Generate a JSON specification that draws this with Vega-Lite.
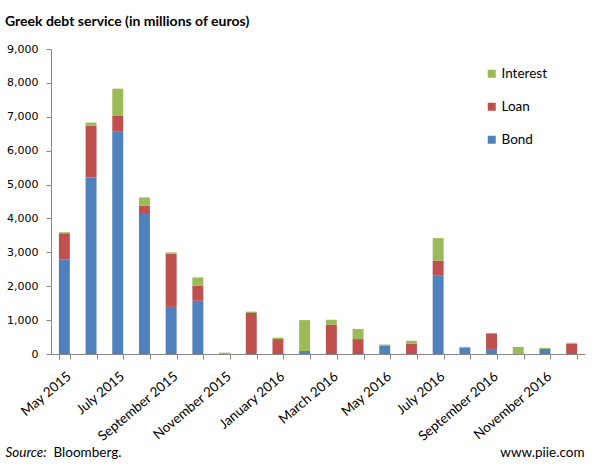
{
  "$schema": "https://vega.github.io/schema/vega-lite/v6.json",
  "width": 534,
  "height": 305,
  "autosize": {"type": "none"},
  "padding": {"left": 51, "top": 49, "right": 15, "bottom": 119},
  "background": "white",
  "title": {"text": "Greek debt service (in millions of euros)", "anchor": "start", "frame": "bounds", "font": "Lato", "fontSize": 14, "fontWeight": "bold", "color": "black", "offset": 14},
  "config": {"view": {"stroke": null}, "font": "Lato"},
  "layer": [
    {
      "data": {"values": [
        {"month": "May 2015", "type": "Bond", "value": 2790},
        {"month": "May 2015", "type": "Loan", "value": 770},
        {"month": "May 2015", "type": "Interest", "value": 30},
        {"month": "June 2015", "type": "Bond", "value": 5210},
        {"month": "June 2015", "type": "Loan", "value": 1530},
        {"month": "June 2015", "type": "Interest", "value": 90},
        {"month": "July 2015", "type": "Bond", "value": 6570},
        {"month": "July 2015", "type": "Loan", "value": 470},
        {"month": "July 2015", "type": "Interest", "value": 790},
        {"month": "August 2015", "type": "Bond", "value": 4160},
        {"month": "August 2015", "type": "Loan", "value": 220},
        {"month": "August 2015", "type": "Interest", "value": 240},
        {"month": "September 2015", "type": "Bond", "value": 1390},
        {"month": "September 2015", "type": "Loan", "value": 1570},
        {"month": "September 2015", "type": "Interest", "value": 40},
        {"month": "October 2015", "type": "Bond", "value": 1570},
        {"month": "October 2015", "type": "Loan", "value": 450},
        {"month": "October 2015", "type": "Interest", "value": 240},
        {"month": "November 2015", "type": "Interest", "value": 40},
        {"month": "December 2015", "type": "Loan", "value": 1210},
        {"month": "December 2015", "type": "Interest", "value": 40},
        {"month": "January 2016", "type": "Loan", "value": 440},
        {"month": "January 2016", "type": "Interest", "value": 40},
        {"month": "February 2016", "type": "Bond", "value": 90},
        {"month": "February 2016", "type": "Interest", "value": 910},
        {"month": "March 2016", "type": "Loan", "value": 860},
        {"month": "March 2016", "type": "Interest", "value": 150},
        {"month": "April 2016", "type": "Loan", "value": 440},
        {"month": "April 2016", "type": "Interest", "value": 300},
        {"month": "May 2016", "type": "Bond", "value": 240},
        {"month": "May 2016", "type": "Interest", "value": 40},
        {"month": "June 2016", "type": "Loan", "value": 300},
        {"month": "June 2016", "type": "Interest", "value": 90},
        {"month": "July 2016", "type": "Bond", "value": 2310},
        {"month": "July 2016", "type": "Loan", "value": 440},
        {"month": "July 2016", "type": "Interest", "value": 670},
        {"month": "August 2016", "type": "Bond", "value": 180},
        {"month": "August 2016", "type": "Interest", "value": 30},
        {"month": "September 2016", "type": "Bond", "value": 150},
        {"month": "September 2016", "type": "Loan", "value": 440},
        {"month": "September 2016", "type": "Interest", "value": 30},
        {"month": "October 2016", "type": "Interest", "value": 210},
        {"month": "November 2016", "type": "Bond", "value": 150},
        {"month": "November 2016", "type": "Interest", "value": 30},
        {"month": "December 2016", "type": "Loan", "value": 300},
        {"month": "December 2016", "type": "Interest", "value": 30}
      ]},
      "transform": [{"calculate": "indexof(['Bond','Loan','Interest'], datum.type)", "as": "ord"}],
      "mark": {"type": "bar"},
      "encoding": {
        "x": {
          "field": "month", "type": "ordinal",
          "sort": ["May 2015","June 2015","July 2015","August 2015","September 2015","October 2015","November 2015","December 2015","January 2016","February 2016","March 2016","April 2016","May 2016","June 2016","July 2016","August 2016","September 2016","October 2016","November 2016","December 2016"],
          "scale": {"paddingInner": 0.59, "paddingOuter": 0.295},
          "axis": {
            "title": "Source:", "titleFontStyle": "italic", "titleFont": "Lato", "titleFontSize": 13.5, "titleFontWeight": "normal", "titleColor": "black",
            "titleX": -46, "titleY": 102, "titleAlign": "left", "titleBaseline": "alphabetic", "titleAnchor": null,
            "labelAngle": -40, "labelAlign": "right", "labelBaseline": "top", "labelFont": "Lato", "labelFontSize": 13.5, "labelColor": "black", "labelPadding": 10,
            "labelOverlap": false,
            "labelExpr": "test(/^(May|July|September|November|January|March)/, datum.value) ? datum.value : ''",
            "tickBand": "extent", "tickColor": "#868686", "tickSize": 5, "domainColor": "#868686", "grid": false
          }
        },
        "y": {
          "field": "value", "type": "quantitative", "stack": "zero",
          "scale": {"domain": [0, 9000]},
          "axis": {
            "title": "Bloomberg.", "titleAngle": 0, "titleX": 2, "titleY": 407, "titleAlign": "left", "titleBaseline": "alphabetic",
            "titleFont": "Lato", "titleFontSize": 13.5, "titleFontWeight": "normal", "titleColor": "black",
            "values": [0,1000,2000,3000,4000,5000,6000,7000,8000,9000], "format": ",d",
            "labelFont": "DejaVu Sans", "labelFontSize": 11, "labelColor": "black", "labelPadding": 8,
            "tickColor": "#868686", "tickSize": 5, "domainColor": "#868686", "grid": false
          }
        },
        "color": {
          "field": "type", "type": "nominal",
          "scale": {"domain": ["Interest","Loan","Bond"], "range": ["#9BBB59","#C0504D","#4F81BD"]},
          "legend": {"orient": "none", "legendX": 434, "legendY": 18, "title": null, "symbolType": "square", "symbolSize": 64, "symbolStrokeWidth": 0, "labelFont": "Lato", "labelFontSize": 13.5, "labelColor": "black", "rowPadding": 18, "labelOffset": 3}
        },
        "order": {"field": "ord", "type": "quantitative"}
      }
    },
    {
      "data": {"values": [{"v": 0}]},
      "mark": {"type": "rule", "opacity": 0},
      "encoding": {
        "y": {
          "field": "v", "type": "quantitative", "scale": {"domain": [0, 9000]},
          "axis": {
            "title": "www.piie.com", "titleAngle": 0, "titleX": -1, "titleY": 407, "titleAlign": "right", "titleBaseline": "alphabetic",
            "titleFont": "Lato", "titleFontSize": 13.5, "titleFontWeight": "normal", "titleColor": "black",
            "labels": false, "ticks": false, "domain": false, "grid": false
          }
        }
      }
    }
  ],
  "resolve": {"scale": {"y": "independent"}}
}
